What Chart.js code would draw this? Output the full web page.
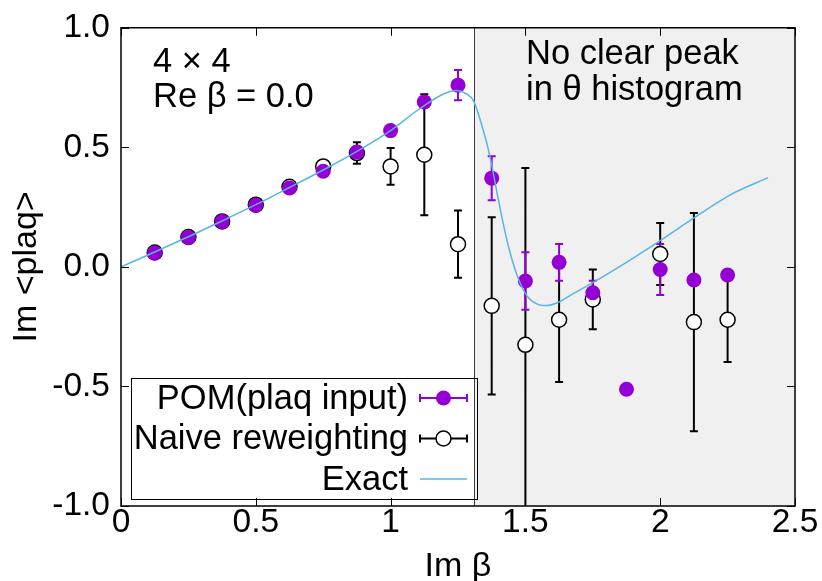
<!DOCTYPE html>
<html>
<head>
<meta charset="utf-8">
<script src="https://cdn.jsdelivr.net/npm/chart.js@4.4.1/dist/chart.umd.min.js"></script>
<style>
  html, body { margin: 0; padding: 0; background: #fff; }
  #wrap { width: 822px; height: 581px; }
</style>
</head>
<body>
<div id="wrap"><canvas id="chart" width="822" height="581"></canvas></div>
<script>
// Im beta values of the measured points
const betaX = [0.125, 0.25, 0.375, 0.5, 0.625, 0.75, 0.875, 1.0, 1.125, 1.25,
               1.375, 1.5, 1.625, 1.75, 1.875, 2.0, 2.125, 2.25];

// POM (plaq input)
const pomY   = [0.058, 0.123, 0.19, 0.258, 0.33, 0.40, 0.48, 0.57, 0.69, 0.76,
                0.371, -0.059, 0.019, -0.108, -0.512, -0.011, -0.055, -0.034];
const pomErr = [0, 0, 0, 0, 0, 0, 0, 0, 0, 0.063,
                0.092, 0.12, 0.077, 0.05, 0, 0.107, 0, 0];

// Naive reweighting (null = not shown)
const naiveY   = [0.06, 0.125, 0.19, 0.26, 0.335, 0.42, 0.476, 0.42, 0.469, 0.095,
                  -0.163, -0.326, -0.221, -0.136, null, 0.054, -0.231, -0.221];
const naiveErr = [0, 0, 0, 0, 0, 0.01, 0.045, 0.077, 0.253, 0.141,
                  0.371, 0.74, 0.26, 0.125, null, 0.13, 0.456, 0.177];

// exact curve
const exactX = [0, 0.125, 0.25, 0.375, 0.5, 0.625, 0.75, 0.875, 1.0, 1.1,
                1.2, 1.245, 1.28, 1.307, 1.344, 1.369, 1.393, 1.418, 1.443, 1.474,
                1.505, 1.542, 1.579, 1.628, 1.665, 1.75, 1.9, 2.0, 2.123, 2.27, 2.4];
const exactY = [0, 0.062, 0.126, 0.192, 0.26, 0.332, 0.405, 0.483, 0.57, 0.655,
                0.725, 0.738, 0.725, 0.695, 0.57, 0.46, 0.32, 0.18, 0.06, -0.05,
                -0.12, -0.155, -0.162, -0.145, -0.12, -0.066, 0.037, 0.11, 0.203, 0.307, 0.373];

const xTicks = [0, 0.5, 1, 1.5, 2, 2.5];
const yTicks = [-1, -0.5, 0, 0.5, 1];
const shadeFrom = 1.31;

const FONT = "'Liberation Sans', Arial, sans-serif";
const PURPLE = '#9400d3';
const BLUE = '#56b4e9';

function pts(xs, ys) {
    const out = [];
    xs.forEach((x, i) => { if (ys[i] !== null) out.push({ x: x, y: ys[i] }); });
    return out;
}

// shading, error bars, frame, texts, legend
const decor = {
    id: 'decor',
    beforeDatasetsDraw(chart) {
        const { ctx, chartArea: a, scales: { x, y } } = chart;
        const sx = x.getPixelForValue(shadeFrom);
        ctx.save();
        ctx.fillStyle = '#f0f0f0';
        ctx.fillRect(sx, a.top, a.right - sx, a.bottom - a.top);
        ctx.strokeStyle = '#404040';
        ctx.lineWidth = 1;
        ctx.beginPath();
        ctx.moveTo(Math.round(sx) + 0.5, a.top);
        ctx.lineTo(Math.round(sx) + 0.5, a.bottom);
        ctx.stroke();

        // inward ticks on all four sides
        ctx.strokeStyle = '#000';
        ctx.beginPath();
        xTicks.forEach(v => {
            const px = Math.round(x.getPixelForValue(v)) + 0.5;
            ctx.moveTo(px, a.bottom); ctx.lineTo(px, a.bottom - 8);
            ctx.moveTo(px, a.top); ctx.lineTo(px, a.top + 8);
        });
        yTicks.forEach(v => {
            const py = Math.round(y.getPixelForValue(v)) + 0.5;
            ctx.moveTo(a.left, py); ctx.lineTo(a.left + 8, py);
            ctx.moveTo(a.right, py); ctx.lineTo(a.right - 8, py);
        });
        ctx.stroke();

        // error bars: black first, purple over them
        ctx.beginPath();
        ctx.rect(a.left, a.top, a.right - a.left, a.bottom - a.top);
        ctx.clip();
        chart.data.datasets.slice().reverse().forEach(ds => {
            if (!ds.errors) return;
            ctx.strokeStyle = ds.barColor;
            ctx.lineWidth = 2;
            ctx.beginPath();
            ds.data.forEach((p, i) => {
                const e = ds.errors[i];
                if (!e) return;
                const px = x.getPixelForValue(p.x);
                const y1 = y.getPixelForValue(p.y + e);
                const y2 = y.getPixelForValue(p.y - e);
                ctx.moveTo(px, y1); ctx.lineTo(px, y2);
                if (y1 > a.top) { ctx.moveTo(px - 4, y1); ctx.lineTo(px + 4, y1); }
                if (y2 < a.bottom) { ctx.moveTo(px - 4, y2); ctx.lineTo(px + 4, y2); }
            });
            ctx.stroke();
        });
        ctx.restore();
    },
    afterDraw(chart) {
        const { ctx, chartArea: a } = chart;
        ctx.save();
        ctx.strokeStyle = '#000';
        ctx.lineWidth = 1.5;
        ctx.strokeRect(a.left, a.top, a.right - a.left, a.bottom - a.top);

        ctx.fillStyle = '#000';
        ctx.font = '34.5px ' + FONT;
        ctx.textBaseline = 'alphabetic';
        ctx.textAlign = 'left';
        ctx.fillText('4 \u00d7 4', a.left + 32, a.top + 44);
        ctx.fillText('Re \u03b2 = 0.0', a.left + 32, a.top + 79);
        ctx.fillText('No clear peak', a.left + 405, a.top + 36);
        ctx.fillText('in \u03b8 histogram', a.left + 405, a.top + 72);

        // legend box
        const lx = a.left + 10, ly = a.bottom - 128, lw = 346, lh = 121;
        ctx.lineWidth = 1;
        ctx.strokeRect(lx + 0.5, ly + 0.5, lw, lh);
        const rows = chart.data.datasets.map(ds => ds).sort((p, q) => p.legendRow - q.legendRow);
        rows.forEach((ds, i) => {
            const cy = ly + 20 + i * 40.5;
            ctx.textAlign = 'right';
            ctx.textBaseline = 'middle';
            ctx.fillStyle = '#000';
            ctx.fillText(ds.label, lx + 277, cy + 1);
            const s0 = lx + 289, s1 = lx + 336, sc = (s0 + s1) / 2;
            ctx.strokeStyle = ds.barColor || ds.borderColor;
            ctx.lineWidth = ds.errors ? 2 : 1.5;
            ctx.beginPath();
            ctx.moveTo(s0, cy); ctx.lineTo(s1, cy);
            if (ds.errors) {
                ctx.moveTo(s0, cy - 4); ctx.lineTo(s0, cy + 4);
                ctx.moveTo(s1, cy - 4); ctx.lineTo(s1, cy + 4);
            }
            ctx.stroke();
            if (ds.pointRadius) {
                ctx.beginPath();
                ctx.arc(sc, cy, ds.pointRadius, 0, Math.PI * 2);
                ctx.fillStyle = ds.backgroundColor;
                ctx.fill();
                if (ds.borderWidth) {
                    ctx.lineWidth = ds.borderWidth;
                    ctx.strokeStyle = ds.borderColor;
                    ctx.stroke();
                }
            }
        });
        ctx.restore();
    }
};

new Chart(document.getElementById('chart'), {
    type: 'scatter',
    data: {
        datasets: [
            {
                label: 'Exact',
                legendRow: 2,
                data: pts(exactX, exactY),
                showLine: true,
                borderColor: BLUE,
                borderWidth: 1.5,
                pointRadius: 0,
                cubicInterpolationMode: 'monotone'
            },
            {
                label: 'POM(plaq input)',
                legendRow: 0,
                data: pts(betaX, pomY),
                errors: pomErr,
                barColor: PURPLE,
                backgroundColor: PURPLE,
                borderColor: PURPLE,
                borderWidth: 0,
                pointRadius: 7.5
            },
            {
                label: 'Naive reweighting',
                legendRow: 1,
                data: pts(betaX, naiveY),
                errors: naiveErr.filter((e, i) => naiveY[i] !== null),
                barColor: '#000',
                backgroundColor: '#fff',
                borderColor: '#000',
                borderWidth: 1.5,
                pointRadius: 7.5
            }
        ]
    },
    options: {
        responsive: false,
        animation: false,
        layout: { padding: { top: 23, right: 27, left: 0, bottom: 0 } },
        plugins: { legend: { display: false }, tooltip: { enabled: false } },
        scales: {
            x: {
                type: 'linear',
                min: 0, max: 2.5,
                grid: { display: false, drawTicks: false },
                border: { display: false },
                afterFit: s => { s.height = 75; },
                afterBuildTicks: s => { s.ticks = xTicks.map(v => ({ value: v })); },
                ticks: {
                    color: '#000', padding: 0, maxRotation: 0,
                    font: { family: FONT, size: 33.5, lineHeight: 1 },
                    callback: v => String(v)
                },
                title: {
                    display: true, text: 'Im \u03b2', color: '#000',
                    padding: { top: 0, bottom: 0 },
                    font: { family: FONT, size: 34, lineHeight: 0.85 }
                }
            },
            y: {
                type: 'linear',
                min: -1, max: 1,
                grid: { display: false, drawTicks: false },
                border: { display: false },
                afterFit: s => { s.width = 121; },
                afterBuildTicks: s => { s.ticks = yTicks.map(v => ({ value: v })); },
                ticks: {
                    color: '#000', padding: 11,
                    font: { family: FONT, size: 33.5, lineHeight: 1 },
                    callback: v => v.toFixed(1)
                },
                title: {
                    display: true, text: 'Im <plaq>', color: '#000',
                    padding: { top: 10, bottom: 0 },
                    font: { family: FONT, size: 34, lineHeight: 1 }
                }
            }
        }
    },
    plugins: [decor]
});
</script>
</body>
</html>
